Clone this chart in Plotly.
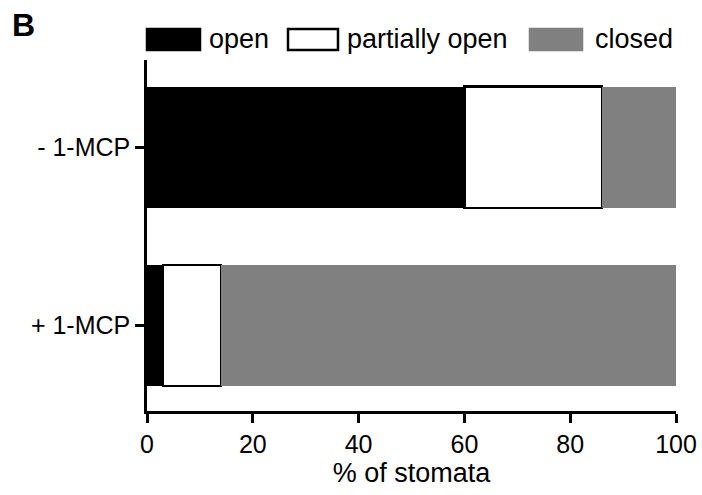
import plotly.graph_objects as go

categories = ["+ 1-MCP", "- 1-MCP"]
series_names = ["open", "partially open", "closed"]
open_vals = [3, 60]
partial_vals = [11, 26]
closed_vals = [86, 14]
x_ticks = [0, 20, 40, 60, 80, 100]

W, H = 702, 495
ML, MR, MT, MB = 147, 26, 60, 84

fills = ["#000000", "#ffffff", "#808080"]
lines = [dict(width=0), dict(color="#000000", width=2.5), dict(width=0)]
vals = [open_vals, partial_vals, closed_vals]

fig = go.Figure()
for name, v, c, ln in zip(series_names, vals, fills, lines):
    fig.add_trace(go.Bar(
        y=categories, x=v, name=name, orientation="h",
        marker=dict(color=c, line=ln), width=0.68, showlegend=False,
    ))

font = "Liberation Sans, Arial, sans-serif"
fig.update_layout(
    barmode="stack",
    width=W, height=H,
    margin=dict(l=ML, r=MR, t=MT, b=MB),
    plot_bgcolor="white", paper_bgcolor="white",
    font=dict(family=font, color="black", size=25),
    xaxis=dict(
        range=[0, 100], tickvals=x_ticks, showline=True, linecolor="black",
        linewidth=2.5, ticks="outside", ticklen=9, tickwidth=2.5, tickcolor="black",
        showgrid=False, zeroline=False, tickfont=dict(size=25), automargin=False,
        title=dict(text="% of stomata", font=dict(size=27), standoff=4),
    ),
    yaxis=dict(
        range=[-0.48, 1.49], showline=True, linecolor="black", linewidth=2.5,
        ticks="outside", ticklen=9, tickwidth=2.5, tickcolor="black",
        showgrid=False, zeroline=False, tickfont=dict(size=25), automargin=False,
    ),
)

pw = W - ML - MR
ph = H - MT - MB
def px(xp):
    return (xp - ML) / pw
def py(yp):
    return (H - MB - yp) / ph

legend_boxes = [(147, 200), (288, 338), (530, 582)]
legend_text_x = [207, 345, 593]
for (x0, x1), c, tx, name in zip(legend_boxes, fills, legend_text_x, series_names):
    fig.add_shape(type="rect", xref="paper", yref="paper",
                  x0=px(x0), x1=px(x1), y0=py(50), y1=py(29),
                  fillcolor=c, line=dict(color="#000000" if c != "#808080" else "#808080", width=2.5))
    fig.add_annotation(xref="paper", yref="paper", x=px(tx), y=py(39),
                       xanchor="left", yanchor="middle", text=name, showarrow=False,
                       font=dict(size=27, family=font, color="black"))

fig.add_annotation(xref="paper", yref="paper", x=px(10), y=py(25),
                   xanchor="left", yanchor="middle", text="<b>B</b>", showarrow=False,
                   font=dict(size=32, family=font, color="black"))

fig.write_html("out.html")
